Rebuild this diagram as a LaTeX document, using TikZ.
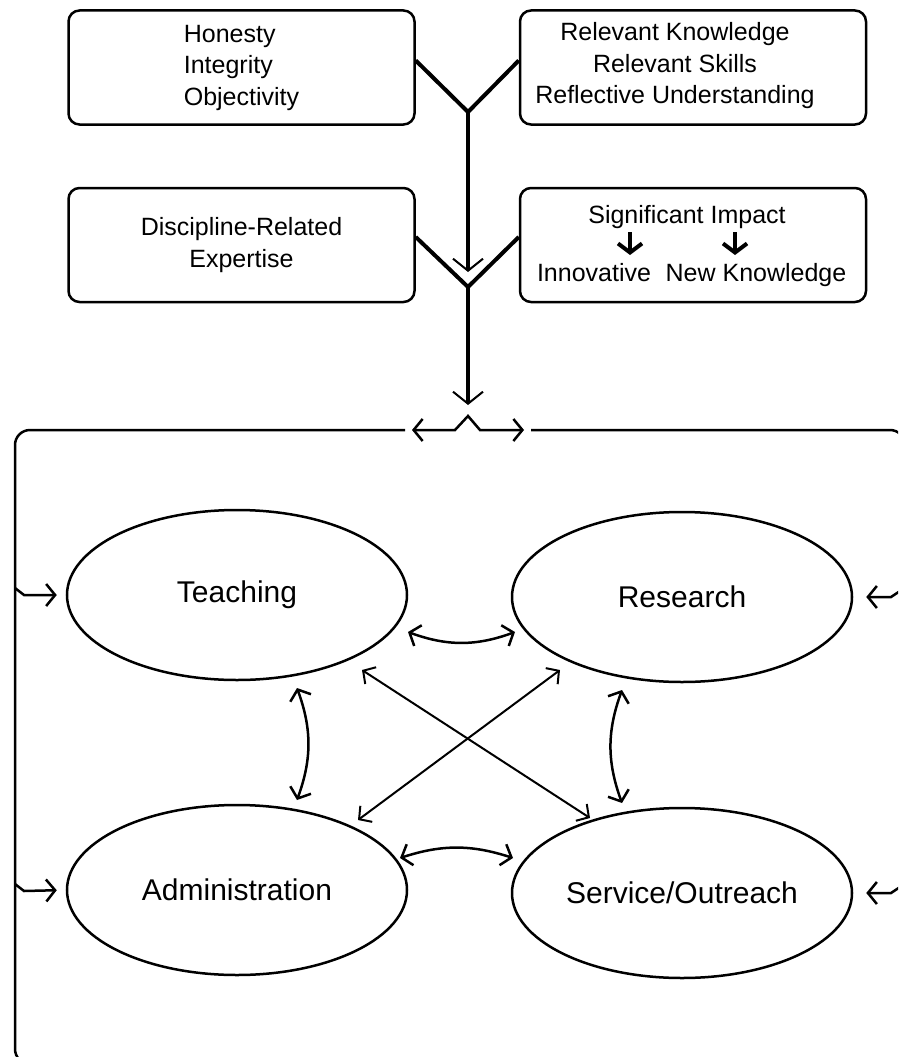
\documentclass[tikz,border=0pt]{standalone}
\usepackage{fontspec}
\setmainfont{Liberation Sans}
\usetikzlibrary{shapes.geometric,arrows.meta,positioning,calc}

\begin{document}
\begin{tikzpicture}[x=1pt,y=1pt,
    infobox/.style={draw, line width=2.5pt, rounded corners=11pt, minimum width=346pt, minimum height=114pt, inner sep=0pt, font=\fontsize{25}{31.5}\selectfont},
    role/.style={draw, ellipse, line width=2.5pt, minimum width=340pt, minimum height=170pt, inner sep=0pt, font=\fontsize{30}{36}\selectfont},
    small/.style={inner sep=0pt, anchor=base, font=\fontsize{25}{31.5}\selectfont},
    trunk/.style={line width=4pt},
    barb/.style={-{Straight Barb[line width=2pt,length=12pt,width=30pt]}},
    thinline/.style={line width=2.5pt},
    pointer/.style={line width=4pt, -{Straight Barb[line width=4pt,length=9pt,width=24pt]}},
    link/.style={line width=2.5pt, {Straight Barb[length=9pt,width=22pt]}-{Straight Barb[length=9pt,width=22pt]}},
    cross/.style={line width=2pt, {Straight Barb[length=9pt,width=20pt]}-{Straight Barb[length=9pt,width=20pt]}},
    entry/.style={line width=2.5pt, -{Straight Barb[length=9pt,width=22pt]}}]
    \useasboundingbox (0,0) rectangle (898,-1057);
    \clip (0,0) rectangle (898,-1057);

    % Qualities boxes
    \node[infobox, align=left] (ethics) at (241.5,-67.5) {Honesty\\Integrity\\Objectivity};
    \node[infobox] (competence) at (693,-67.5) {};
    \node[inner sep=0pt, align=center, font=\fontsize{25}{31.5}\selectfont] (skills) at (675,-66) {Relevant Knowledge\\Relevant Skills\\Reflective Understanding};
    \node[infobox, align=center] (expertise) at (241.5,-245) {Discipline-Related\\Expertise};
    \node[infobox] (impact) at (693,-245) {};

    % Inside the impact box
    \node[small] (sig) at (687,-223) {Significant Impact};
    \node[small] (innov) at (594,-281) {Innovative};
    \node[small] (newk) at (756,-281) {New Knowledge};
    \coordinate (a1) at (630,0);
    \coordinate (a2) at (735,0);
    \draw[pointer] ([yshift=-9]sig.base -| a1) -- ([yshift=-32]sig.base -| a1);
    \draw[pointer] ([yshift=-9]sig.base -| a2) -- ([yshift=-32]sig.base -| a2);

    % Joints of the trunk
    \coordinate (j1) at (468,-112);
    \coordinate (j2) at (468,-287);
    \coordinate (gate) at (468,-416);

    \draw[trunk] ([yshift=7]ethics.east) -- (j1) -- ([yshift=7]competence.west);
    \draw[trunk, barb, shorten >=15pt] (j1) -- (j2);
    \draw[trunk] ([yshift=8]expertise.east) -- (j2) -- ([yshift=8]impact.west);
    \draw[trunk, barb, shorten >=11pt] (j2) -- (gate);

    % Split at the top of the frame
    \draw[thinline, {Straight Barb[length=9pt,width=22pt]}-{Straight Barb[length=9pt,width=22pt]}]
        ([shift={(-56,-14)}]gate) -- ++(43,0) -- (gate) -- ++(12,-14) -- ++(44,0);

    % Frame
    \draw[thinline, rounded corners=15pt] ([shift={(-63,-14)}]gate) -- (15,-430) -- (15,-1064) -- (80,-1064);
    \draw[thinline, rounded corners=15pt] ([shift={(63,-14)}]gate) -- (905,-430) -- (905,-520);

    % Roles
    \node[role] (teach) at (237,-595) {Teaching};
    \node[role] (res) at (682,-597) {Research};
    \node[role] (admin) at (237,-890) {Administration};
    \node[role] (serv) at (682,-893) {Service/Outreach};

    % Frame into roles
    \coordinate (fl1) at (15,-588);
    \coordinate (fl2) at (15,-884);
    \coordinate (fr1) at (900,-591);
    \coordinate (fr2) at (900,-887);
    \draw[entry, shorten >=9pt] (fl1) -- ++(9,-7) -- (teach.west);
    \draw[entry, shorten >=9pt] (fl2) -- ++(9,-7) -- (admin.west);
    \draw[entry, shorten >=13pt] (fr1) -- ++(-9,-6) -- (res.east);
    \draw[entry, shorten >=13pt] (fr2) -- ++(-9,-6) -- (serv.east);

    % Links between roles
    \draw[link] ([shift={(171,-37)}]teach.center) to[bend right=20] ([shift={(-167,-35)}]res.center);
    \draw[link] ([shift={(163,32)}]admin.center) to[bend left=18] ([shift={(-169,35)}]serv.center);
    \draw[link] ([shift={(60,-93)}]teach.center) to[bend left=20] ([shift={(60,90)}]admin.center);
    \draw[link] ([shift={(-60,-93)}]res.center) to[bend right=20] ([shift={(-60,90)}]serv.center);
    \draw[cross] ([shift={(125,-75)}]teach.center) -- ([shift={(-92,75)}]serv.center);
    \draw[cross] ([shift={(-122,-73)}]res.center) -- ([shift={(121,70)}]admin.center);
\end{tikzpicture}
\end{document}
